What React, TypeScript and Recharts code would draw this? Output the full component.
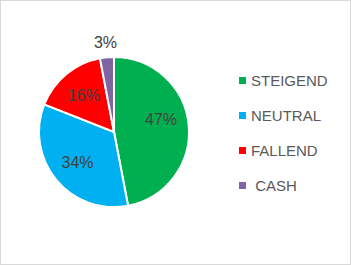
import { PieChart, Pie, Cell, Legend } from "recharts";

const categories = ["STEIGEND", "NEUTRAL", "FALLEND", " CASH"];
const shares = [47, 34, 16, 3];
const colors = ["#00b050", "#00b0f0", "#ff0000", "#8064a2"];

const data = categories.map((name, i) => ({ name, value: shares[i] }));

const RAD = Math.PI / 180;

function renderLabel(props: any) {
  const { cx, cy, midAngle, outerRadius, value } = props;
  const r = value < 5 ? outerRadius * 1.2 : outerRadius * 0.63;
  const x = cx + r * Math.cos(-midAngle * RAD);
  let y = cy + r * Math.sin(-midAngle * RAD);
  // Excel nudges the label of the slice lying across 3 o'clock upward
  if (Math.abs(midAngle) < 15) y -= 8;
  return (
    <text
      x={x}
      y={y}
      fill="#404040"
      fontSize={16}
      fontFamily="Liberation Sans, Arial, sans-serif"
      textAnchor="middle"
      dominantBaseline="central"
    >
      {value}%
    </text>
  );
}

function LegendList() {
  return (
    <div style={{ fontFamily: "Liberation Sans, Arial, sans-serif", fontSize: 15, color: "#595959" }}>
      {data.map((d, i) => (
        <div key={d.name} style={{ display: "flex", alignItems: "center", height: 35, whiteSpace: "pre" }}>
          <span style={{ width: 7, height: 7, background: colors[i], marginRight: 5, display: "inline-block" }} />
          <span>{d.name}</span>
        </div>
      ))}
    </div>
  );
}

export default function App() {
  return (
    <div
      style={{
        position: "absolute",
        left: 0,
        top: 0,
        width: 351,
        height: 265,
        border: "1px solid #d9d9d9",
        boxSizing: "border-box",
        background: "#fff",
      }}
    >
      <PieChart width={349} height={263} margin={{ top: 0, right: 0, bottom: 0, left: 0 }}>
        <Pie
          data={data}
          dataKey="value"
          nameKey="name"
          cx={113}
          cy={131}
          outerRadius={75}
          startAngle={90}
          endAngle={-270}
          stroke="#fff"
          strokeWidth={2}
          label={renderLabel}
          labelLine={false}
          isAnimationActive={false}
        >
          {data.map((d, i) => (
            <Cell key={d.name} fill={colors[i]} />
          ))}
        </Pie>
        <Legend
          layout="vertical"
          content={() => <LegendList />}
          wrapperStyle={{ left: 238, top: 62, width: 110, bottom: "auto" }}
        />
      </PieChart>
    </div>
  );
}
